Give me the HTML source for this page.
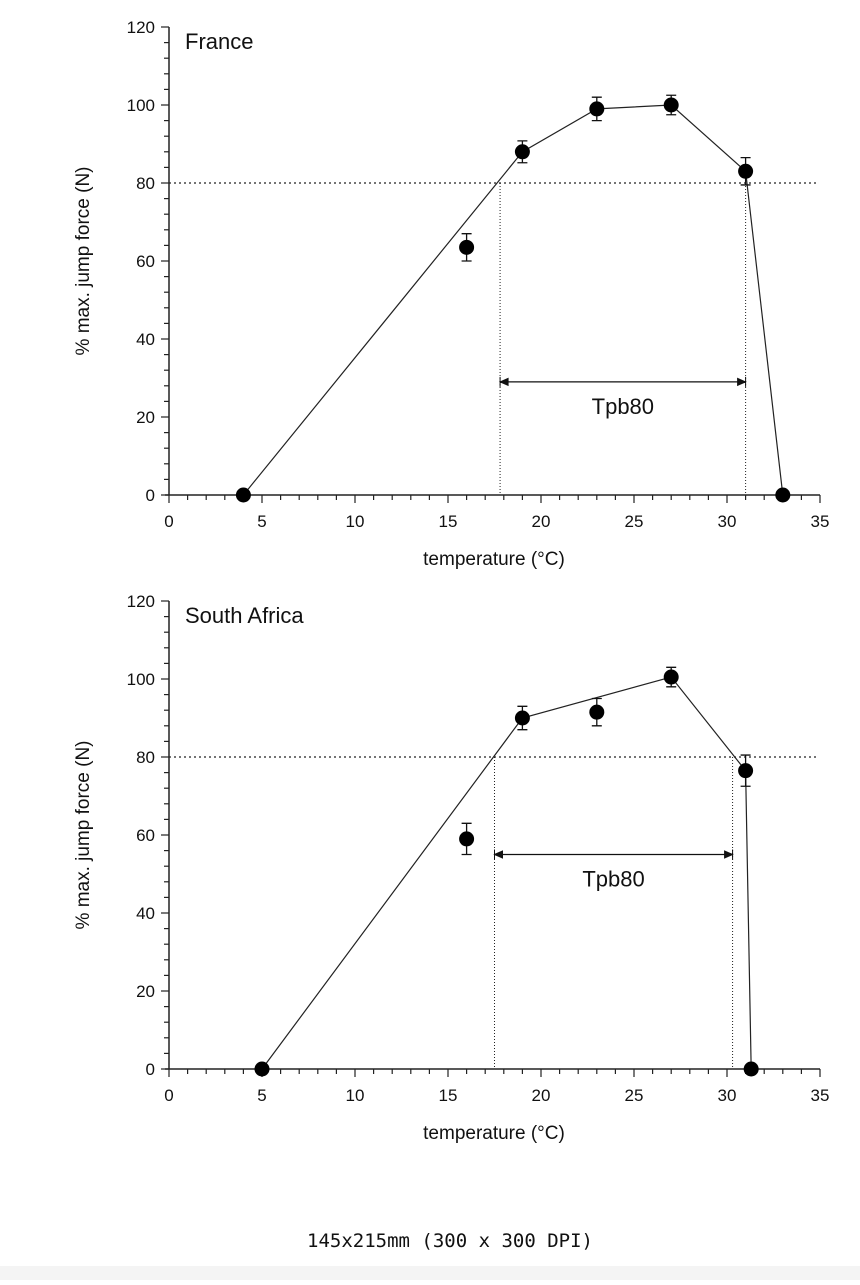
<!DOCTYPE html>
<html><head><meta charset="utf-8"><style>
body{margin:0;background:#fff;width:860px;height:1280px;overflow:hidden;font-family:"Liberation Sans",sans-serif}
svg text{font-family:"Liberation Sans",sans-serif;fill:#111}
</style></head><body>
<svg id="c" width="860" height="1280" xmlns="http://www.w3.org/2000/svg">
<text x="450" y="1247" text-anchor="middle" style="font-family:'DejaVu Sans Mono','Liberation Mono',monospace;font-size:19px">145x215mm (300 x 300 DPI)</text>
<rect x="0" y="1266" width="860" height="14" fill="#f4f4f4"/>
</svg>
<script>
const xTicks=[0,5,10,15,20,25,30,35];
const yTicks=[0,20,40,60,80,100,120];
const panelTitles=["France","South Africa"];
const franceX=[4,16,19,23,27,31,33];
const franceY=[0,63.5,88,99,100,83,0];
const franceErr=[0,3.5,2.8,3,2.5,3.5,0];
const franceLine=[0,2,3,4,5,6];
const franceTpb=[17.8,31];
const saX=[5,16,19,23,27,31,31.3];
const saY=[0,59,90,91.5,100.5,76.5,0];
const saErr=[0,4,3,3.5,2.5,4,0];
const saLine=[0,2,4,5,6];
const saTpb=[17.5,30.3];
const arrowY=[29,55];
const threshold=80;

const svg=document.getElementById('c');
const NS='http://www.w3.org/2000/svg';
function mk(t,a,p){const e=document.createElementNS(NS,t);for(const k in a)e.setAttribute(k,a[k]);(p||svg).appendChild(e);return e;}
const X0=169,X1=820;
const sx=v=>X0+(X1-X0)*v/35;

function panel(idx,y0,xs,ys,errs,lineIdx,tpb,ay){
  const g=mk('g',{});
  
  
  const sy=v=>y0-468*v/120;
  const ya=mk('line',{x1:X0,y1:sy(0),x2:X0,y2:sy(120),stroke:'#222','stroke-width':1.5},g);
  
  const xa=mk('line',{x1:X0-4,y1:y0,x2:X1,y2:y0,stroke:'#222','stroke-width':1.5},g);
  
  for(let v=0;v<=120;v+=4){const maj=v%20===0;mk('line',{x1:X0-(maj?8:5),y1:sy(v),x2:X0,y2:sy(v),stroke:'#222','stroke-width':1.2},g);}
  yTicks.forEach(v=>{const t=mk('text',{x:X0-14,y:sy(v)+6,'text-anchor':'end','font-size':17},g);t.textContent=v;
    });
  for(let v=0;v<=35;v++){const maj=v%5===0;mk('line',{x1:sx(v),y1:y0,x2:sx(v),y2:y0+(maj?8:5),stroke:'#222','stroke-width':1.2},g);}
  xTicks.forEach(v=>{const t=mk('text',{x:sx(v),y:y0+32,'text-anchor':'middle','font-size':17},g);t.textContent=v;
    });
  const xt=mk('text',{x:494,y:y0+70,'text-anchor':'middle','font-size':19},g);xt.textContent='temperature (°C)';
  
  const yt=mk('text',{x:0,y:0,'text-anchor':'middle','font-size':19,transform:`translate(89,${sy(60)}) rotate(-90)`},g);yt.textContent='% max. jump force (N)';
  
  const pt=mk('text',{x:185,y:sy(120)+22,'font-size':22},g);pt.textContent=panelTitles[idx];
  
  const th=mk('line',{x1:X0,y1:sy(threshold),x2:817,y2:sy(threshold),stroke:'#222','stroke-width':1.2,'stroke-dasharray':'2,3'},g);
  
  tpb.forEach(v=>{const l=mk('line',{x1:sx(v),y1:sy(threshold),x2:sx(v),y2:y0,stroke:'#222','stroke-width':1,'stroke-dasharray':'1,2'},g);
    });
  const a1=sx(tpb[0]),a2=sx(tpb[1]),yy=sy(ay);
  const ar=mk('line',{x1:a1,y1:yy,x2:a2,y2:yy,stroke:'#111','stroke-width':1.3},g);
  
  mk('path',{d:`M${a1},${yy}l8,-3.5v7z M${a2},${yy}l-8,-3.5v7z M${a1},${yy-5}v10 M${a2},${yy-5}v10`,fill:'#111',stroke:'#111','stroke-width':1},g);
  const tl=mk('text',{x:(a1+a2)/2,y:yy+32,'text-anchor':'middle','font-size':22},g);tl.textContent='Tpb80';
  
  const pl=mk('polyline',{points:lineIdx.map(i=>sx(xs[i])+','+sy(ys[i])).join(' '),fill:'none',stroke:'#222','stroke-width':1.2},g);
  
  xs.forEach((x,i)=>{
    if(errs[i]>0){const e=mk('path',{d:`M${sx(x)},${sy(ys[i]-errs[i])}V${sy(ys[i]+errs[i])}M${sx(x)-5},${sy(ys[i]-errs[i])}h10M${sx(x)-5},${sy(ys[i]+errs[i])}h10`,stroke:'#111','stroke-width':1.3,fill:'none'},g);
      }
    const c=mk('circle',{cx:sx(x),cy:sy(ys[i]),r:7.5,fill:'#000'},g);
    
  });
}
panel(0,495,franceX,franceY,franceErr,franceLine,franceTpb,arrowY[0]);
panel(1,1069,saX,saY,saErr,saLine,saTpb,arrowY[1]);
</script>
</body></html>
